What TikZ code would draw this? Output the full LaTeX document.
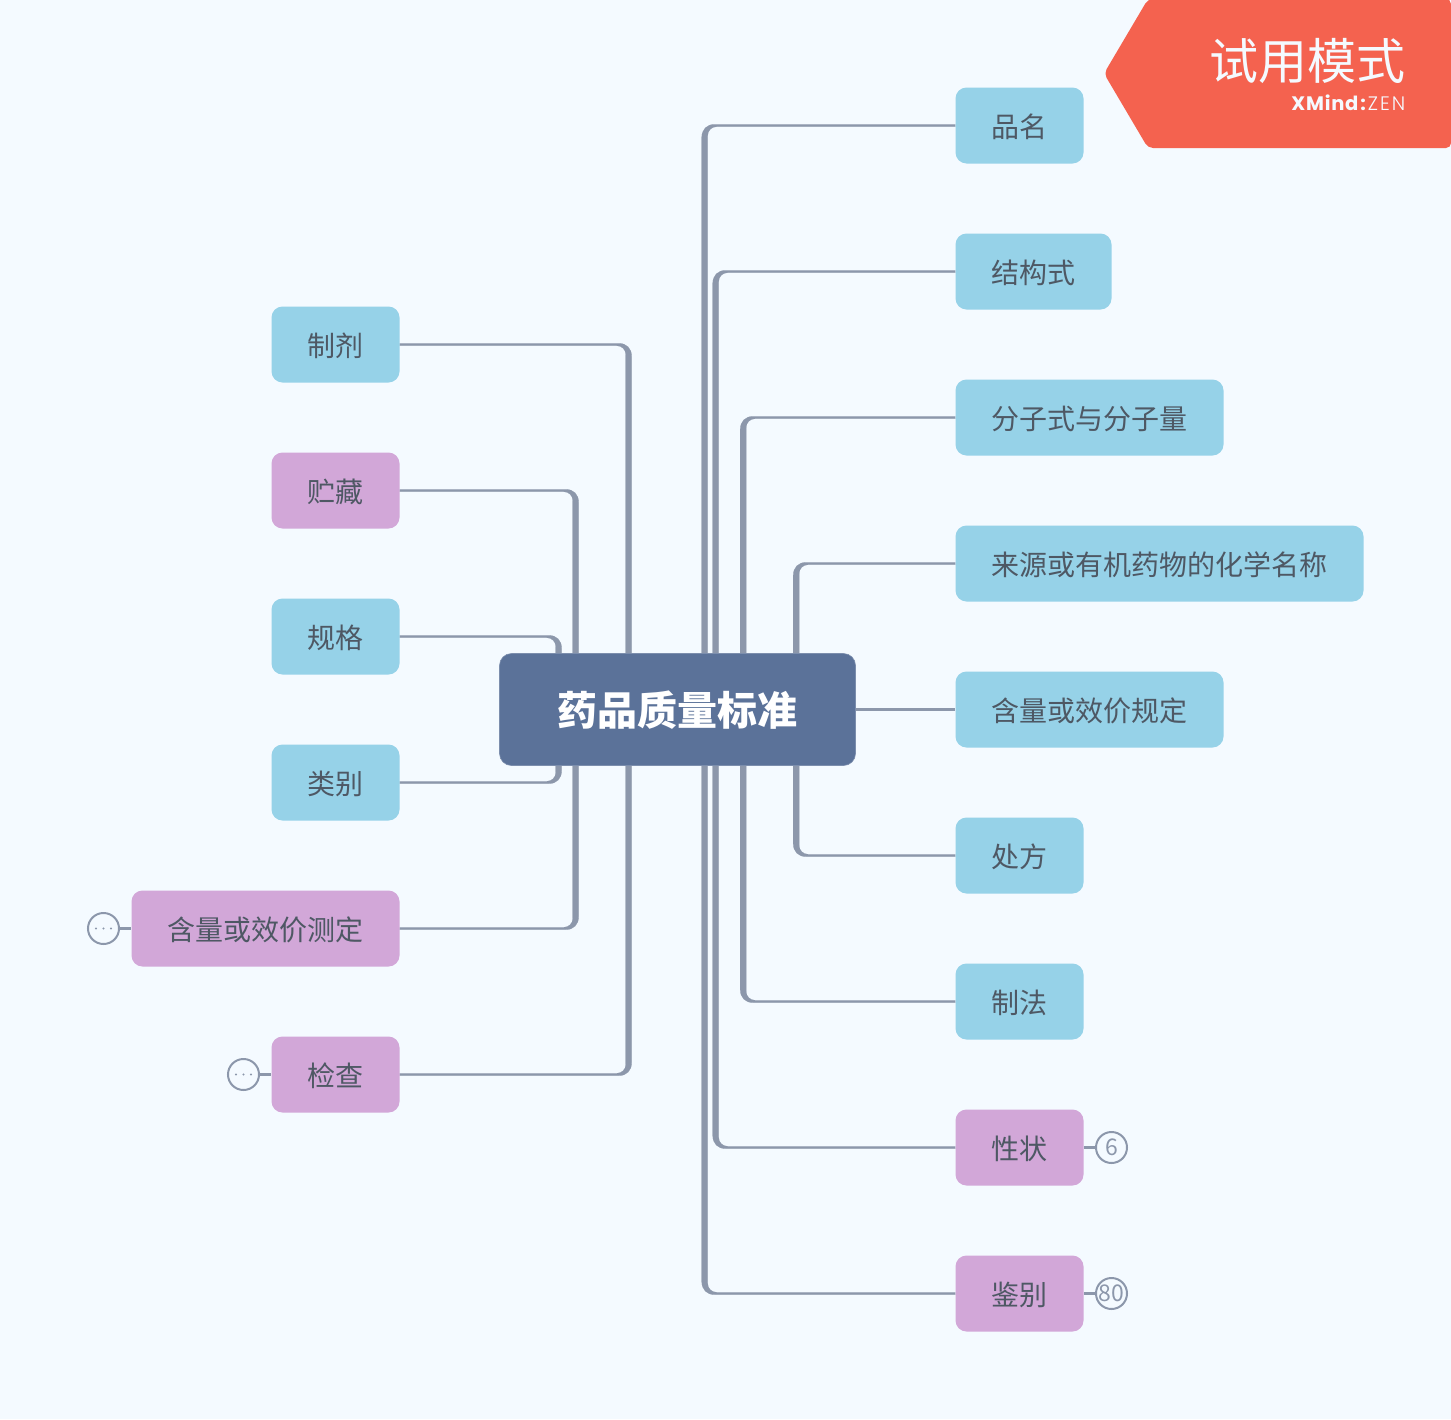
\documentclass[tikz,border=0pt]{standalone}
\usepackage{fontspec}
\usetikzlibrary{calc,backgrounds}
\newfontfamily\cjk{Noto Sans CJK SC}
\newfontfamily\popp[LetterSpace=4]{Poppins}
\newfontfamily\poppl[LetterSpace=10]{Poppins Light}
\definecolor{pagebg}{HTML}{F4FAFF}
\definecolor{linec}{HTML}{8C97AB}
\definecolor{rootc}{HTML}{5B7299}
\definecolor{bluec}{HTML}{96D2E8}
\definecolor{purpc}{HTML}{D2A7D8}
\definecolor{textc}{HTML}{4E5864}
\definecolor{badgec}{HTML}{F4624F}
\newcommand\lowered[1]{\raisebox{-1pt}[\height][\depth]{\hspace{.4pt}#1}}
\tikzset{
  x=1pt,y=-1pt,
  topic/.style={rounded corners=11pt,inner sep=0pt,minimum height=76pt,text=textc,font=\cjk\fontsize{28pt}{28pt}\selectfont},
  bluetopic/.style={topic,fill=bluec},
  purptopic/.style={topic,fill=purpc},
  rootnode/.style={rounded corners=12pt,inner sep=0pt,minimum width=356pt,minimum height=112pt,fill=rootc,draw=rootc!80!white,line width=.6pt,text=white,font=\cjk\bfseries\fontsize{40pt}{40pt}\selectfont},
  conn/.style={draw=linec,fill=linec,line width=.1pt},
  stub/.style={draw=linec,line width=2.2pt},
  badgeball/.style={circle,draw=linec,line width=2pt,fill=pagebg,minimum size=31pt,inner sep=0pt,text=linec,font=\cjk\fontsize{23pt}{23pt}\selectfont},
}
% #1 node anchor, #2 outer edge of the trunk from root.west, #3 +1 when the topic lies to the right, -1 left
\newcommand\branch[3]{%
  \draw[conn] let \p1=(#1),\p2=($(root.west)+(#2,0)$),\n1={#3*1pt},\n2={ifthenelse(\y1>\y2,1,-1)*1pt} in
    (\x1,\y1+1.2*\n2) -- (\x2+13*\n1,\y1+1.2*\n2)
    .. controls (\x2+5*\n1,\y1+1.2*\n2) and (\x2,\y1-4*\n2) .. (\x2,\y1-12*\n2)
    -- (\x2,\y2) -- (\x2+6*\n1,\y2) -- (\x2+6*\n1,\y1-10*\n2)
    .. controls (\x2+6*\n1,\y1-5*\n2) and (\x2+10*\n1,\y1-1.2*\n2) .. (\x2+15*\n1,\y1-1.2*\n2)
    -- (\x1,\y1-1.2*\n2) -- cycle;}
\begin{document}
\begin{tikzpicture}
\useasboundingbox (0,0) rectangle (1451,1419);
\begin{scope}[on background layer]
\fill[pagebg] (0,0) rectangle (1451,1419);
\end{scope}
\node[rootnode] (root) at (677.5,709.5) {\lowered{药品质量标准}};
% right
\node[bluetopic,minimum width=128pt] (r1) at (1019.5,125.5) {\lowered{品名}};
\node[bluetopic,minimum width=156pt] (r2) at (1033.5,271.5) {\lowered{结构式}};
\node[bluetopic,minimum width=268pt] (r3) at (1089.5,417.5) {\lowered{分子式与分子量}};
\node[bluetopic,minimum width=408pt] (r4) at (1159.5,563.5) {\lowered{来源或有机药物的化学名称}};
\node[bluetopic,minimum width=268pt] (r5) at (1089.5,709.5) {\lowered{含量或效价规定}};
\node[bluetopic,minimum width=128pt] (r6) at (1019.5,855.5) {\lowered{处方}};
\node[bluetopic,minimum width=128pt] (r7) at (1019.5,1001.5) {\lowered{制法}};
\node[purptopic,minimum width=128pt] (r8) at (1019.5,1147.5) {\lowered{性状}};
\node[purptopic,minimum width=128pt] (r9) at (1019.5,1293.5) {\lowered{鉴别}};
% left
\node[bluetopic,minimum width=128pt] (l1) at (335.5,344.5) {\lowered{制剂}};
\node[purptopic,minimum width=128pt] (l2) at (335.5,490.5) {\lowered{贮藏}};
\node[bluetopic,minimum width=128pt] (l3) at (335.5,636.5) {\lowered{规格}};
\node[bluetopic,minimum width=128pt] (l4) at (335.5,782.5) {\lowered{类别}};
\node[purptopic,minimum width=268pt] (l5) at (265.5,928.5) {\lowered{含量或效价测定}};
\node[purptopic,minimum width=128pt] (l6) at (335.5,1074.5) {\lowered{检查}};
% badges
\node[badgeball] (bl5) at (103.5,928.5) {};
\node[badgeball] (bl6) at (243.5,1074.5) {};
\node[badgeball] (br8) at (1111.5,1147.5) {6};
\node[badgeball] (br9) at (1111.5,1293.5) {80};
\foreach \b in {bl5,bl6}{\foreach \d in {-7.5,0,7.5}{\fill[linec] ($(\b.center)+(\d,0)$) circle (1.1);}}
\begin{scope}[on background layer]
\branch{r1.west}{202.5}{1}
\branch{r2.west}{213.5}{1}
\branch{r3.west}{241}{1}
\branch{r4.west}{294}{1}
\branch{r6.west}{294}{1}
\branch{r7.west}{241}{1}
\branch{r8.west}{213.5}{1}
\branch{r9.west}{202.5}{1}
\branch{l1.east}{132.5}{-1}
\branch{l2.east}{79.5}{-1}
\branch{l3.east}{62.5}{-1}
\branch{l4.east}{62.5}{-1}
\branch{l5.east}{79.5}{-1}
\branch{l6.east}{132.5}{-1}
\draw[stub] (root.east) -- (r5.west);
\draw[stub] (bl5) -- (l5.west);
\draw[stub] (bl6) -- (l6.west);
\draw[stub] (r8.east) -- (br8);
\draw[stub] (r9.east) -- (br9);
\end{scope}
% trial mark
\fill[badgec,rounded corners=5pt] (1104,73.5) -- (1148,-1) -- (1451,-1) -- (1451,148) -- (1148,148) -- cycle;
\node[anchor=east,inner sep=0pt,text=pagebg,font=\cjk\fontsize{49pt}{49pt}\selectfont] (trial) at (1405.5,61.5) {试用模式};
\node[anchor=east,inner sep=0pt,text=pagebg,font=\fontsize{19.5pt}{19.5pt}\selectfont] (brand) at (1405.5,103) {{\popp\bfseries XMind\hspace{2pt}:\hspace{2pt}}{\poppl ZEN}};
\end{tikzpicture}
\end{document}
